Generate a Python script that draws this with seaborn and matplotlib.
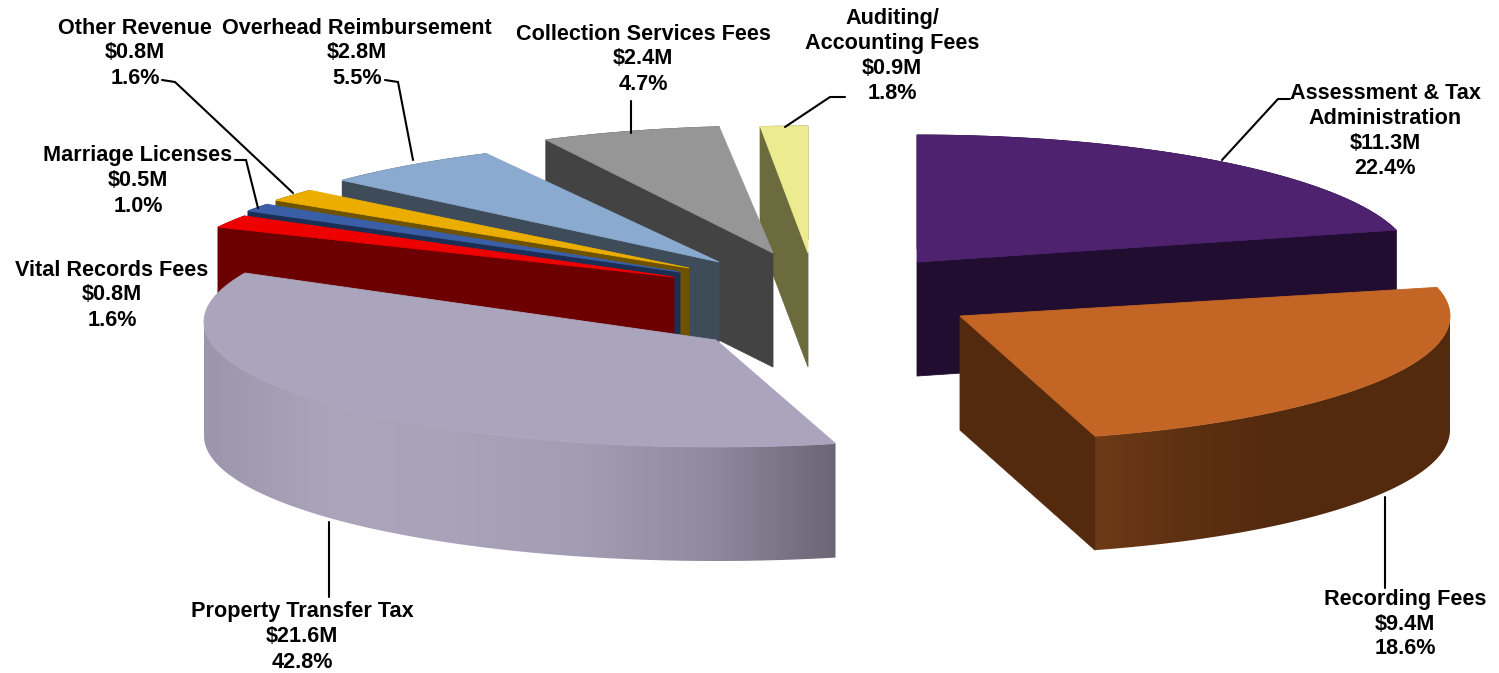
import numpy as np
import seaborn as sns
import matplotlib
matplotlib.use('Agg')
import matplotlib.pyplot as plt
from matplotlib.patches import Polygon

# Revenue slices, clockwise from 12 o'clock
names = ['Assessment & Tax\nAdministration', 'Recording Fees', 'Property Transfer Tax',
         'Vital Records Fees', 'Marriage Licenses', 'Other Revenue',
         'Overhead Reimbursement', 'Collection Services Fees', 'Auditing/\nAccounting Fees']
revenue = [11.3, 9.4, 21.6, 0.8, 0.5, 0.8, 2.8, 2.4, 0.9]
share = [22.4, 18.6, 42.8, 1.6, 1.0, 1.6, 5.5, 4.7, 1.8]

top_colors = ['#4F2270', '#C26525', '#AAA4BC', '#EE0000', '#3A5FA6', '#EBAE00',
              '#8AAACF', '#969696', '#EDEB8F']
side_colors = ['#210D30', '#542A0E', '#A39DB3', '#6C0000', '#1B2F55', '#6E5200',
               '#3E4B59', '#434343', '#6B6B3E']

# exploded slice tips, rim centres and ellipse radii, in pixels
tip_x = [917, 960, 716, 674, 680, 689, 719, 773, 808]
tip_y = [262, 316, 340, 277, 272, 268, 262, 253, 253]
rim_y = [262, 316, 322, 284, 279, 275, 265, 253, 253]
rad_x = [495, 490, 512, 512, 515, 515, 512, 500, 500]
rad_y = [127, 125, 125, 125, 125, 125, 125, 127, 127]
depth = 114

# the original has a skewed perspective, so pie angles get bent onto the ellipse
pie_knots = [0, 80.6, 147.6, 301.6, 336.6, 353.5, 360]
screen_knots = [0, 75.4, 164, 297, 333, 354.5, 360]
# small per slice corrections of the bend, degrees
bend_start = [0, 1.3, 2.5, 0, 0, 0, 0, 0, 0]
bend_end = [0, 0, -4, 0, 0, 0, 0, -0.7, 0]

# label centre, x / y
label_x = [1385, 1405, 302, 112, 138, 135, 357, 643, 892]
label_y = [131, 624, 637, 295, 181, 53, 53, 59, 56]

# leader lines
leaders = [
    [(1222, 160), (1278, 99), (1290, 99)],
    [(1385, 497), (1385, 588)],
    [(329, 522), (329, 597)],
    [(258, 208), (246, 160), (235, 160)],
    [(293, 193), (175, 82), (162, 80)],
    [(413, 160), (398, 82), (385, 80)],
    [(631, 133), (631, 101)],
    [(785, 127), (830, 97), (845, 97)],
]

sns.set_theme(style='white')
plt.rcParams['font.family'] = ['Liberation Sans', 'DejaVu Sans']

fig, ax = plt.subplots(figsize=(14.99, 6.73), dpi=100)
fig.subplots_adjust(0, 0, 1, 1)
ax.axis('off')

edges = np.concatenate([[0], np.cumsum(share)])
edges = edges * 360 / edges[-1]


def rim(i, n=200):
    theta = np.linspace(edges[i], edges[i + 1], n)
    phi = np.interp(theta, pie_knots, screen_knots)
    phi = phi + np.linspace(bend_start[i], bend_end[i], n)
    phi = np.radians(phi)
    return tip_x[i] + rad_x[i] * np.sin(phi), rim_y[i] - rad_y[i] * np.cos(phi)


def paint(xs, ys, color, z):
    ax.fill(xs, ys, color=color, lw=0.6, zorder=z)


def gradient_wall(x, y, colors, z):
    # smooth shading on the wall, clipped to its outline
    pal = np.array(sns.blend_palette(colors, 256))[None, :, :3]
    img = ax.imshow(pal, extent=(x.min(), x.max(), y.max() + depth, y.min()),
                    aspect='auto', zorder=z, interpolation='bilinear')
    outline = Polygon(np.c_[np.r_[x, x[::-1]], np.r_[y, y[::-1] + depth]],
                      transform=ax.transData, fc='none', ec='none')
    ax.add_patch(outline)
    img.set_clip_path(outline)


# left to right shading of the two big front walls
grad_property = ['#9C96AC', '#ABA5BC', '#A9A3B9', '#A39DB3', '#8F8A9E', '#6B6676']
grad_recording = ['#6E3A17', '#5E3012', '#542A0E', '#542A0E', '#542A0E']

# painter order, back slices first
order = [8, 7, 6, 5, 4, 3, 0, 1, 2]
for rank, i in enumerate(order):
    z = 2 + rank * 3
    x, y = rim(i)

    # straight cut face that looks at the viewer
    if i in (0, 1):
        ex, ey = x[-1], y[-1]
    else:
        ex, ey = x[0], y[0]
    if i != 2:
        paint([tip_x[i], ex, ex, tip_x[i]],
              [tip_y[i], ey, ey + depth, tip_y[i] + depth], side_colors[i], z + 1)

    # outer wall, only the part of the rim that faces the viewer
    front = y >= rim_y[i]
    if i == 1:
        gradient_wall(x[front], y[front], grad_recording, z)
    elif i == 2:
        gradient_wall(x[front], y[front], grad_property, z)
    else:
        paint(np.r_[x, x[::-1]], np.r_[y, y[::-1] + depth], side_colors[i], z)

    # top surface
    paint(np.r_[tip_x[i], x], np.r_[tip_y[i], y], top_colors[i], z + 2)

for line in leaders:
    ax.plot([p[0] for p in line], [p[1] for p in line], color='black', lw=1.5,
            solid_joinstyle='miter', zorder=50)

for i in range(len(names)):
    text = f'{names[i]}\n${revenue[i]}M\n{share[i]}%'
    ax.text(label_x[i], label_y[i], text, ha='center', va='center', fontsize=15.6,
            fontweight='bold', color='black', linespacing=1.25, zorder=60)

ax.set_xlim(0, 1499)
ax.set_ylim(673, 0)
fig.savefig('out.png', dpi=100)
